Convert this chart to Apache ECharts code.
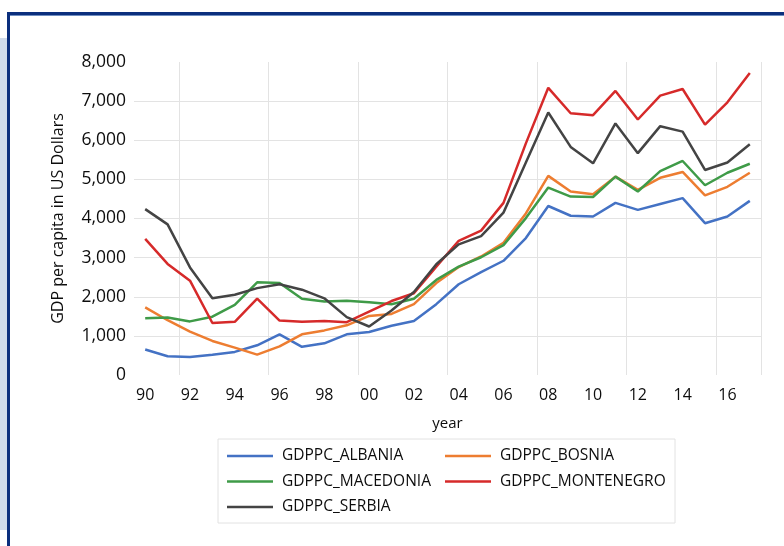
<!DOCTYPE html>
<html>
<head>
<meta charset="utf-8">
<script src="https://cdn.jsdelivr.net/npm/echarts@6/dist/echarts.min.js"></script>
<style>
  html, body { margin: 0; padding: 0; background: #fff; }
  #chart { width: 784px; height: 546px; }
</style>
</head>
<body>
<div id="chart"></div>
<script>
// years 1990..2017, shown as two-digit labels
const years = ['90','91','92','93','94','95','96','97','98','99','00','01','02','03','04','05','06','07','08','09','10','11','12','13','14','15','16','17']

const albania = [650, 480, 460, 520, 590, 760, 1040, 720, 810, 1040, 1100, 1260, 1380, 1810, 2320, 2630, 2920, 3500, 4320, 4070, 4050, 4400, 4220, 4370, 4520, 3880, 4050, 4450]
const bosnia = [1730, 1400, 1110, 870, 700, 520, 730, 1040, 1140, 1270, 1510, 1560, 1810, 2350, 2760, 3030, 3380, 4130, 5090, 4690, 4620, 5070, 4730, 5040, 5190, 4590, 4810, 5170]
const macedonia = [1450, 1470, 1370, 1490, 1790, 2370, 2350, 1950, 1880, 1900, 1860, 1810, 1950, 2430, 2770, 3010, 3320, 4010, 4790, 4560, 4550, 5070, 4690, 5210, 5470, 4850, 5170, 5400]
const montenegro = [3480, 2840, 2410, 1330, 1360, 1950, 1390, 1360, 1380, 1350, 1620, 1890, 2090, 2770, 3430, 3690, 4400, 5920, 7340, 6690, 6640, 7260, 6530, 7140, 7310, 6400, 6970, 7720]
const serbia = [4240, 3850, 2750, 1960, 2050, 2220, 2320, 2180, 1960, 1480, 1240, 1650, 2120, 2830, 3340, 3550, 4150, 5430, 6710, 5830, 5410, 6430, 5670, 6360, 6220, 5240, 5430, 5900]

const seriesNames = ['GDPPC_ALBANIA', 'GDPPC_BOSNIA', 'GDPPC_MACEDONIA', 'GDPPC_MONTENEGRO', 'GDPPC_SERBIA']
const seriesData = [albania, bosnia, macedonia, montenegro, serbia]
const colors = ['#4472c4', '#ed7d31', '#3f9b48', '#d62a2a', '#444444']

const font = 'Open Sans'
const textColor = '#0d0d0d'

const chart = echarts.init(document.getElementById('chart'))

// two columns of legend entries, like the original two-column key
function legendCol(names, left) {
  return {
    data: names,
    orient: 'vertical',
    left: left, top: 446,
    padding: 0,
    icon: 'rect',
    itemWidth: 46, itemHeight: 2.5, itemGap: 5.5,
    textStyle: { fontSize: 15.5, lineHeight: 20, color: textColor, fontFamily: font, padding: [0, 0, 0, 4] }
  }
}

const option = {
  animation: false,
  color: colors,
  textStyle: { fontFamily: font },
  grid: { left: 134, right: 23, top: 62, bottom: 171 },
  legend: [
    legendCol(['GDPPC_ALBANIA', 'GDPPC_MACEDONIA', 'GDPPC_SERBIA'], 227),
    legendCol(['GDPPC_BOSNIA', 'GDPPC_MONTENEGRO'], 445)
  ],
  xAxis: {
    type: 'category',
    data: years,
    boundaryGap: true,
    name: 'year',
    nameLocation: 'middle',
    nameGap: 41,
    nameTextStyle: { fontSize: 15, color: textColor },
    axisLine: { show: false },
    axisTick: { show: false },
    axisLabel: { interval: 1, margin: 12, fontSize: 16, color: textColor },
    splitLine: {
      show: true,
      interval: (idx) => idx % 4 === 2,
      lineStyle: { color: '#e3e3e3', width: 1 }
    }
  },
  yAxis: {
    type: 'value',
    min: 0, max: 8000, interval: 1000,
    name: 'GDP per capita in US Dollars',
    nameLocation: 'middle',
    nameRotate: 90,
    nameGap: 68,
    nameTextStyle: { fontSize: 16, color: textColor },
    axisLine: { show: false },
    axisTick: { show: false },
    axisLabel: {
      margin: 8, fontSize: 17.5, color: textColor,
      formatter: (v) => v.toLocaleString('en-US')
    },
    splitLine: {
      show: true,
      showMinLine: false,
      showMaxLine: false,
      lineStyle: { color: '#e3e3e3', width: 1 }
    }
  },
  graphic: [
    // left light band
    { type: 'rect', shape: { x: 0, y: 38, width: 7, height: 492 }, style: { fill: '#cfdbeb' }, silent: true },
    // navy frame
    { type: 'rect', shape: { x: 7, y: 12, width: 777, height: 3 }, style: { fill: '#0b2f7d' }, silent: true },
    { type: 'rect', shape: { x: 7, y: 12, width: 3, height: 534 }, style: { fill: '#0b2f7d' }, silent: true },
    { type: 'rect', shape: { x: 10, y: 15, width: 774, height: 1 }, style: { fill: '#6f8dc0' }, silent: true },
    // legend box
    { type: 'rect', shape: { x: 218, y: 439, width: 457, height: 84 }, style: { fill: 'none', stroke: '#e2e2e2', lineWidth: 1 }, silent: true }
  ],
  series: seriesNames.map((name, i) => ({
    name: name,
    type: 'line',
    data: seriesData[i],
    symbol: 'none',
    lineStyle: { width: 2.5, color: colors[i] },
    itemStyle: { color: colors[i] }
  }))
}

chart.setOption(option)
</script>
</body>
</html>
